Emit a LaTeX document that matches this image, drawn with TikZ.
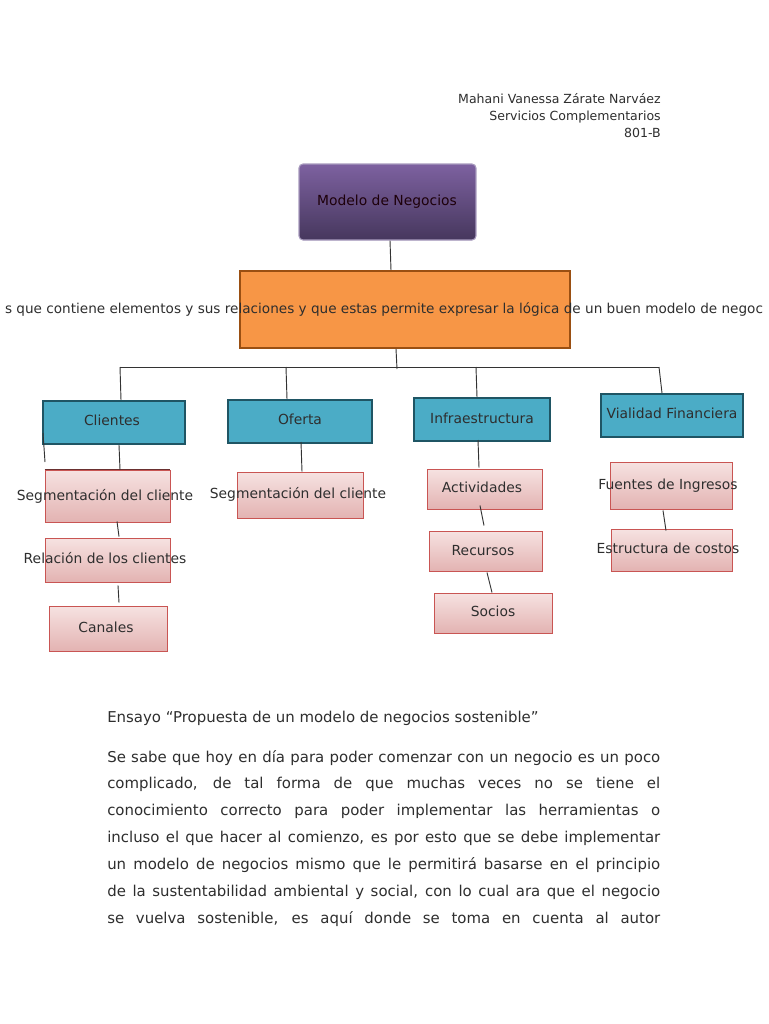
\documentclass[tikz,border=0pt]{standalone}
\usepackage{fontspec}
\setmainfont{DejaVu Sans}
\usetikzlibrary{fit,calc}
\definecolor{txt}{HTML}{2E2E2E}
\definecolor{purtop}{HTML}{7D61A0}
\definecolor{purbot}{HTML}{46375D}
\definecolor{purline}{HTML}{A89BBE}
\definecolor{orfill}{HTML}{F79646}
\definecolor{orline}{HTML}{9A4F12}
\definecolor{blfill}{HTML}{4BACC6}
\definecolor{blline}{HTML}{1F5564}
\definecolor{pktop}{HTML}{F6E2E1}
\definecolor{pkbot}{HTML}{E3B3B2}
\definecolor{pkline}{HTML}{C95553}
\definecolor{conn}{HTML}{333333}
\definecolor{segtop}{HTML}{6A3030}
\begin{document}
\begin{tikzpicture}[x=0.75pt,y=-0.75pt,
  purplebox/.style={draw=purline,line width=0.8pt,top color=purtop,bottom color=purbot,rounded corners=3pt,inner sep=0pt},
  orangebox/.style={draw=orline,line width=1.2pt,fill=orfill,inner sep=0pt},
  bluebox/.style={draw=blline,line width=1.5pt,fill=blfill,inner sep=0pt},
  pinkbox/.style={draw=pkline,line width=0.7pt,top color=pktop,bottom color=pkbot,inner sep=0pt},
  lbl/.style={inner sep=0pt,text=txt,font=\fontsize{10.4}{12}\selectfont,text height=1.5ex,text depth=.3ex},
  head/.style={inner sep=0pt,text=txt,font=\fontsize{9.4}{11}\selectfont,anchor=east,text height=1.5ex,text depth=.3ex},
  essay/.style={inner sep=0pt,text=txt,font=\fontsize{11.2}{13}\selectfont,anchor=west,text height=1.5ex,text depth=.3ex},
  link/.style={draw=conn,line width=0.7pt}]
\useasboundingbox (0,0) rectangle (768,1024);
\fill[white] (0,0) rectangle (768,1024);

% header
\node[head] (h1) at (661,99) {Mahani Vanessa Zárate Narváez};
\node[head] (h2) at (661,116) {Servicios Complementarios};
\node[head] (h3) at (661,133) {801-B};

% boxes
\node[purplebox,fit={(299,164) (476,240)}] (mod) {};
\node[orangebox,fit={(240,271) (570,348)}] (org) {};
\node[bluebox,fit={(43,401) (185,444)}] (cli) {};
\node[bluebox,fit={(228,400) (372,443)}] (ofe) {};
\node[bluebox,fit={(414,398) (550,441)}] (inf) {};
\node[bluebox,fit={(601,394) (743,437)}] (via) {};
\node[pinkbox,fit={(45,470) (170,522)}] (seg1) {};
\node[pinkbox,fit={(45,538) (170,582)}] (rel) {};
\node[pinkbox,fit={(49,606) (167,651)}] (can) {};
\node[pinkbox,fit={(237,472) (363,518)}] (seg2) {};
\node[pinkbox,fit={(427,469) (542,509)}] (act) {};
\node[pinkbox,fit={(429,531) (542,571)}] (rec) {};
\node[pinkbox,fit={(434,593) (552,633)}] (soc) {};
\node[pinkbox,fit={(610,462) (732,509)}] (fue) {};
\node[pinkbox,fit={(611,529) (732,571)}] (est) {};
\draw[draw=segtop,line width=1.3pt] (seg1.north west) -- (seg1.north east);

% labels
\node[lbl,text=black!85!purple] (tmod) at (387,201) {Modelo de Negocios};
\node[lbl,font=\fontsize{10.2}{12}\selectfont] (torg) at (384,309) {s que contiene elementos y sus relaciones y que estas permite expresar la lógica de un buen modelo de negoc};
\node[lbl] (tcli) at (112,421) {Clientes};
\node[lbl] (tofe) at (300,420) {Oferta};
\node[lbl] (tinf) at (482,419) {Infraestructura};
\node[lbl] (tvia) at (672,414) {Vialidad Financiera};
\node[lbl] (tseg1) at (105,496) {Segmentación del cliente};
\node[lbl] (trel) at (105,559) {Relación de los clientes};
\node[lbl] (tcan) at (106,628) {Canales};
\node[lbl] (tseg2) at (298,494) {Segmentación del cliente};
\node[lbl] (tact) at (482,488) {Actividades};
\node[lbl] (trec) at (483,551) {Recursos};
\node[lbl] (tsoc) at (493,612) {Socios};
\node[lbl] (tfue) at (668,485) {Fuentes de Ingresos};
\node[lbl] (test) at (668,549) {Estructura de costos};

% connectors
\coordinate (busL) at (120,367);
\coordinate (busR) at (659,367);
\coordinate (busM) at (397,369);
\coordinate (bus2) at (286,367);
\coordinate (bus3) at (476,367);
\coordinate (stub) at (45,462);
\draw[link] ($(mod.south)+(2.5,0)$) -- ($(org.north)+(-14,0)$);
\draw[link] (busL) -- (busR);
\draw[link] ($(org.south)+(-9,0)$) -- (busM);
\draw[link] (busL) -- ($(cli.north)+(7,0)$);
\draw[link] (bus2) -- ($(ofe.north)+(-13,0)$);
\draw[link] (bus3) -- ($(inf.north)+(-5,0)$);
\draw[link] (busR) -- ($(via.north)+(-10,0)$);
\draw[link] ($(cli.south west)+(1,-12)$) -- (stub);
\draw[link] ($(cli.south)+(5,0)$) -- ($(seg1.north)+(12.5,0)$);
\draw[link] ($(seg1.south)+(9.5,-1)$) -- ($(rel.north)+(11.5,-1)$);
\draw[link] ($(rel.south)+(10.5,3)$) -- ($(can.north)+(11,-3)$);
\draw[link] ($(ofe.south)+(1,-2)$) -- ($(seg2.north)+(2,0)$);
\draw[link] ($(inf.south)+(-4,-2)$) -- ($(act.north)+(-5.5,-1)$);
\draw[link] ($(act.south)+(-4.5,-4)$) -- ($(rec.north)+(-1.5,-5)$);
\draw[link] ($(rec.south)+(1.5,1)$) -- ($(soc.north)+(-1,0)$);
\draw[link] ($(fue.south)+(-8,1)$) -- ($(est.north)+(-5.5,2)$);

% essay
\node[essay] (title) at (107,718) {Ensayo “Propuesta de un modelo de negocios sostenible”};
\node[essay] (p1) at (107,758) {\makebox[414.75pt][s]{Se sabe que hoy en día para poder comenzar con un negocio es un poco}};
\node[essay] (p2) at (107,784) {\makebox[414.75pt][s]{complicado, de tal forma de que muchas veces no se tiene el}};
\node[essay] (p3) at (107,811) {\makebox[414.75pt][s]{conocimiento correcto para poder implementar las herramientas o}};
\node[essay] (p4) at (107,838) {\makebox[414.75pt][s]{incluso el que hacer al comienzo, es por esto que se debe implementar}};
\node[essay] (p5) at (107,865) {\makebox[414.75pt][s]{un modelo de negocios mismo que le permitirá basarse en el principio}};
\node[essay] (p6) at (107,892) {\makebox[414.75pt][s]{de la sustentabilidad ambiental y social, con lo cual ara que el negocio}};
\node[essay] (p7) at (107,919) {\makebox[414.75pt][s]{se vuelva sostenible, es aquí donde se toma en cuenta al autor}};
\end{tikzpicture}
\end{document}
